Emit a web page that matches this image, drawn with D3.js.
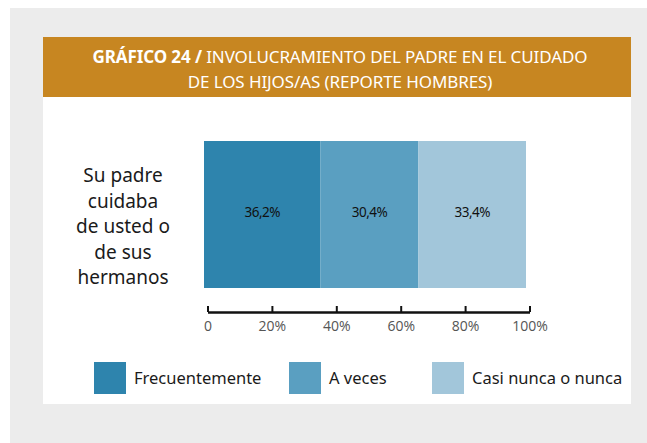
<!DOCTYPE html>
<html>
<head>
<meta charset="utf-8">
<script src="https://cdn.jsdelivr.net/npm/d3@7"></script>
<style>
  html, body { margin: 0; padding: 0; background: #fff; }
  svg { display: block; font-family: "Noto Sans", "Open Sans", sans-serif; }
</style>
</head>
<body>
<svg id="chart" width="647" height="443"></svg>
<script>
// --- data
const titleBold = "GRÁFICO 24 /";
const titleLines = ["INVOLUCRAMIENTO DEL PADRE EN EL CUIDADO", "DE LOS HIJOS/AS (REPORTE HOMBRES)"];
const categoryLines = ["Su padre", "cuidaba", "de usted o", "de sus", "hermanos"];
const seriesNames = ["Frecuentemente", "A veces", "Casi nunca o nunca"];
const seriesValues = [36.2, 30.4, 33.4];
const seriesColors = ["#2e84ad", "#5a9fc1", "#a2c6da"];
const tickValues = [0, 20, 40, 60, 80, 100];

const svg = d3.select("#chart");

// background frames
svg.append("rect").attr("x", 10).attr("y", 8).attr("width", 637).attr("height", 435).attr("fill", "#ececec");
svg.append("rect").attr("x", 43).attr("y", 37).attr("width", 588).attr("height", 367).attr("fill", "#fff");
svg.append("rect").attr("x", 43).attr("y", 37).attr("width", 588).attr("height", 60).attr("fill", "#c78621");

// title
const t1 = svg.append("text").attr("x", 340).attr("y", 63).attr("text-anchor", "middle")
  .attr("fill", "#fff").attr("font-size", 17).attr("letter-spacing", -0.1);
t1.append("tspan").attr("font-weight", "bold").text(titleBold + " ");
t1.append("tspan").text(titleLines[0]);
svg.append("text").attr("x", 340).attr("y", 88).attr("text-anchor", "middle")
  .attr("fill", "#fff").attr("font-size", 17).attr("letter-spacing", -0.1).text(titleLines[1]);

// scales
const x = d3.scaleLinear().domain([0, 100]).range([207.5, 529.5]);
const xBar = x.copy().range([204, 526]);

// stacked bar
const stacked = [];
let acc = 0;
seriesValues.forEach((v, i) => { stacked.push({ name: seriesNames[i], v, x0: acc, x1: acc + v, color: seriesColors[i] }); acc += v; });

const bar = svg.append("g");
bar.selectAll("rect").data(stacked).join("rect")
  .attr("x", d => xBar(d.x0))
  .attr("width", d => xBar(d.x1) - xBar(d.x0))
  .attr("y", 141).attr("height", 147)
  .attr("fill", d => d.color);
bar.selectAll("text").data(stacked).join("text")
  .attr("x", d => (xBar(d.x0) + xBar(d.x1)) / 2)
  .attr("y", 217).attr("text-anchor", "middle")
  .attr("font-size", 13.5).attr("letter-spacing", -0.5).attr("fill", "#111")
  .text(d => d3.format(".1f")(d.v).replace(".", ",") + "%");

// category label
svg.append("text").attr("text-anchor", "middle").attr("font-size", 19).attr("fill", "#1a1a1a")
  .selectAll("tspan").data(categoryLines).join("tspan")
  .attr("x", 123).attr("y", (d, i) => 182 + i * 25.5).text(d => d);

// axis
const axis = svg.append("g").attr("transform", "translate(0,312)")
  .call(d3.axisBottom(x).tickValues(tickValues).tickSize(-6).tickSizeOuter(0)
    .tickFormat(d => d === 0 ? "0" : d + "%"));
axis.select(".domain").attr("stroke", "#111").attr("stroke-width", 2.5);
axis.selectAll(".tick line").attr("stroke", "#111").attr("stroke-width", 2);
axis.selectAll(".tick text").attr("y", 9).attr("font-size", 14).attr("fill", "#555")
  .attr("font-family", "'Open Sans', sans-serif");

// legend
const legendX = [94, 289, 432];
const leg = svg.append("g").selectAll("g").data(seriesNames).join("g")
  .attr("transform", (d, i) => `translate(${legendX[i]},362)`);
leg.append("rect").attr("width", 32).attr("height", 32).attr("fill", (d, i) => seriesColors[i]);
leg.append("text").attr("x", 40).attr("y", 22).attr("font-size", 16.5)
  .attr("fill", "#1a1a1a").text(d => d);
</script>
</body>
</html>
